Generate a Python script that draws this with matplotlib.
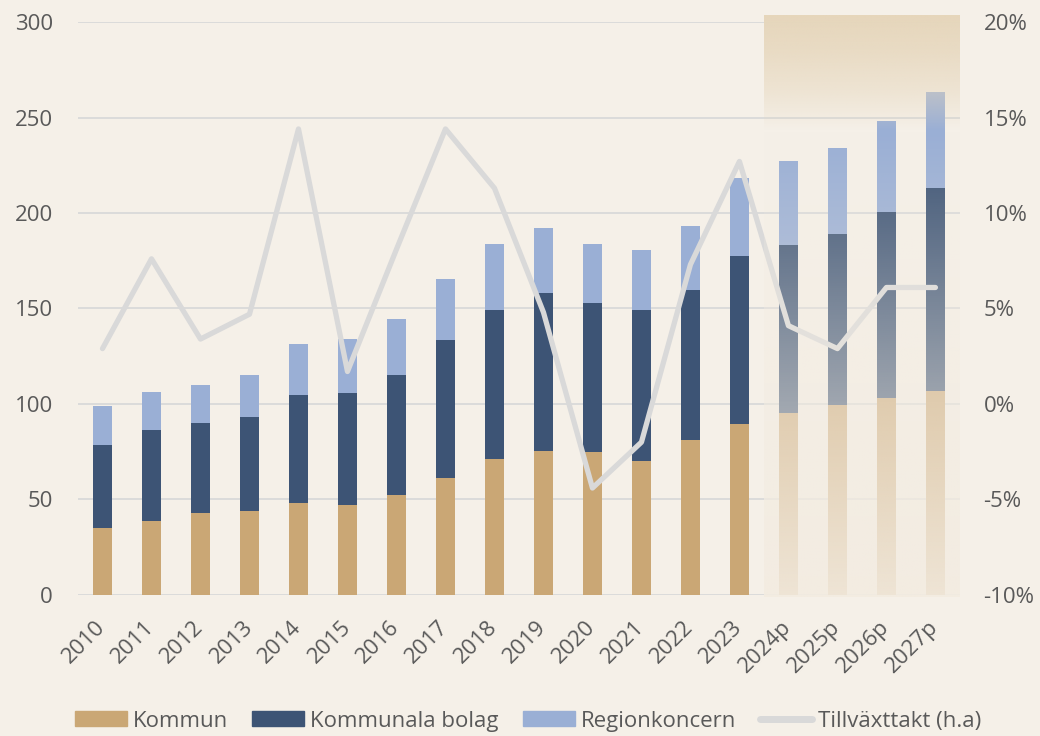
import numpy as np
import matplotlib
matplotlib.use("Agg")
import matplotlib.pyplot as plt
from matplotlib.lines import Line2D
from matplotlib.patches import Patch

years = ["2010", "2011", "2012", "2013", "2014", "2015", "2016", "2017", "2018",
         "2019", "2020", "2021", "2022", "2023", "2024p", "2025p", "2026p", "2027p"]
kommun = [34.9, 38.9, 43.1, 43.8, 48.0, 46.9, 52.2, 61.4, 71.0, 75.5, 74.7, 70.2,
          81.3, 89.5, 95.5, 99.5, 103.2, 106.8]
kommunala_bolag = [43.6, 47.5, 46.8, 49.6, 56.9, 58.9, 62.8, 72.1, 78.3, 82.8, 78.4,
                   78.9, 78.4, 88.1, 87.9, 89.7, 97.3, 106.1]
regionkoncern = [20.5, 19.9, 20.0, 21.8, 26.7, 28.1, 29.3, 31.8, 34.3, 34.1, 30.9,
                 31.3, 33.6, 40.5, 43.6, 44.6, 47.5, 50.4]
tillvaxttakt = [2.9, 7.6, 3.4, 4.7, 14.4, 1.7, 8.1, 14.4, 11.3, 4.8, -4.4, -2.0,
                7.3, 12.7, 4.1, 2.9, 6.1, 6.1]
left_ticks = [0, 50, 100, 150, 200, 250, 300]
right_ticks = [-10, -5, 0, 5, 10, 15, 20]
right_labels = ["-10%", "-5%", "0%", "5%", "10%", "15%", "20%"]
forecast_start = 14

BG = "#f5f0e8"
TAN = "#caa775"
NAVY = "#3d5475"
LBLUE = "#9aafd5"
LINE = "#d9d9d9"
TXT = "#595959"

plt.rcParams['font.family'] = ['Open Sans', 'DejaVu Sans']

fig = plt.figure(figsize=(10.4, 7.36), dpi=100, facecolor=BG)
ax = fig.add_axes([0.075, 0.1916, 0.848, 0.7785])
ax.set_facecolor(BG)

x = np.arange(len(years))
k = np.array(kommun)
b = np.array(kommunala_bolag)
r = np.array(regionkoncern)
w = 0.39
ax.bar(x, k, w, color=TAN, zorder=2)
ax.bar(x, b, w, bottom=k, color=NAVY, zorder=2)
ax.bar(x, r, w, bottom=k + b, color=LBLUE, zorder=2)

ax.set_xlim(-0.5, len(years) - 0.5)
ax.set_ylim(0, 300)
ax.set_yticks(left_ticks)
ax.yaxis.grid(True, color=LINE, lw=1.3, zorder=0)
ax.set_axisbelow(True)
for s in ax.spines.values():
    s.set_visible(False)
ax.tick_params(axis='y', length=0, pad=18, labelsize=16, labelcolor=TXT)
ax.set_xticks(x)
ax.set_xticklabels(years, rotation=45, ha='right', va='center', rotation_mode='anchor')
ax.tick_params(axis='x', length=0, pad=21, labelsize=16, labelcolor=TXT)

ax2 = ax.twinx()
ax2.patch.set_visible(False)
for s in ax2.spines.values():
    s.set_visible(False)
ax2.plot(x, tillvaxttakt, color=LINE, lw=3.8, solid_capstyle='round',
         solid_joinstyle='round', zorder=2)
ax2.set_ylim(-10, 20)
ax2.set_yticks(right_ticks)
ax2.set_yticklabels(right_labels)
ax2.tick_params(axis='y', length=0, pad=17, labelsize=16, labelcolor=TXT)

# forecast overlay gradient (pixel rows from top 15 to bottom 597)
n = 400
py = np.linspace(15, 597, n)
top_col = np.array([230, 214, 187]) / 255
bot_col = np.array([243, 236, 225]) / 255
a_top = np.interp(py, [15, 50, 92, 130], [1.0, 0.8, 0.45, 0.0])
a_bot = np.interp(py, [130, 244, 412, 597], [0.0, 0.22, 0.56, 0.9])
rgba = np.zeros((n, 1, 4))
for i in range(n):
    if py[i] < 130:
        rgba[i, 0, :3] = top_col
        rgba[i, 0, 3] = a_top[i]
    else:
        rgba[i, 0, :3] = bot_col
        rgba[i, 0, 3] = a_bot[i]
top_val = -10 + (595 - 15) / 19.1
bot_val = -10 - 2 / 19.1
im = ax2.imshow(rgba, extent=[forecast_start - 0.5, len(years) - 0.5, bot_val, top_val],
                aspect='auto', origin='upper', zorder=5, clip_on=False,
                interpolation='bilinear')
ax2.set_xlim(-0.5, len(years) - 0.5)
ax2.set_ylim(-10, 20)

handles = [Patch(color=TAN), Patch(color=NAVY), Patch(color=LBLUE),
           Line2D([0], [0], color=LINE, lw=5, solid_capstyle='round')]
labels = ["Kommun", "Kommunala bolag", "Regionkoncern", "Tillväxttakt (h.a)"]
leg = fig.legend(handles, labels, loc='center', bbox_to_anchor=(0.508, 0.02), ncol=4,
                 frameon=False, fontsize=16, handlelength=2.34, handleheight=0.66,
                 handletextpad=0.27, columnspacing=1.08, labelcolor=TXT)

fig.savefig("out.png", dpi=100, facecolor=BG)
